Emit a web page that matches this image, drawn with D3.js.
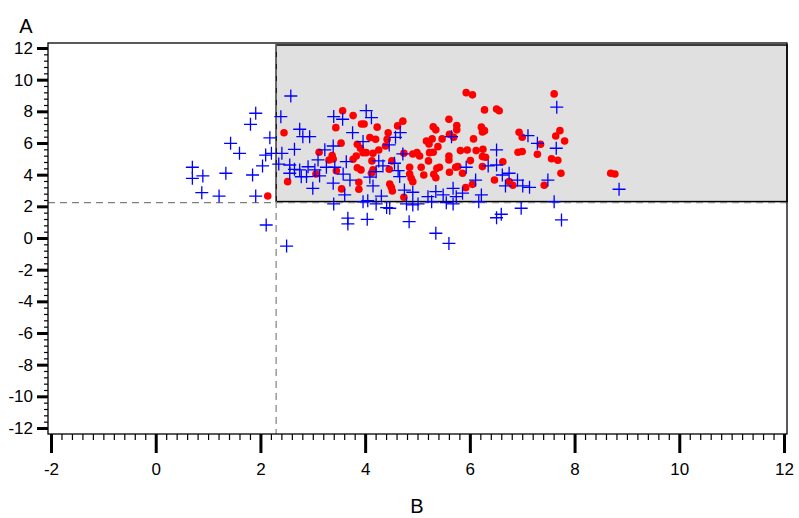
<!DOCTYPE html>
<html>
<head>
<meta charset="utf-8">
<script src="https://cdn.jsdelivr.net/npm/d3@7"></script>
<style>
  body { margin: 0; background: #fff; }
  text { font-family: "Liberation Sans", Arial, sans-serif; }
</style>
</head>
<body>
<div id="chart"></div>
<script>
// tick values
var xTicks = [-2, 0, 2, 4, 6, 8, 10, 12];
var yTicks = [-12, -10, -8, -6, -4, -2, 0, 2, 4, 6, 8, 10, 12];
var xTitle = "B", yTitle = "A";
// cut-off values for the shaded box and dashed guide lines
var cutX = 2.3, cutY = 2.3;

// blue crosses [B, A]
var crossPts = [
  [2.58,8.97],[1.91,7.88],[1.81,7.18],[2.39,7.66],[2.18,6.33],[2.75,6.87],[1.43,5.98],[1.60,5.35],
  [2.10,5.24],[2.21,5.35],[2.41,5.35],[2.04,4.55],[0.70,4.47],[0.70,3.77],[0.90,3.92],[1.34,4.09],
  [1.85,3.98],[0.88,2.86],[1.21,2.65],[1.91,2.65],[2.11,0.82],[2.50,-0.51],[2.65,5.60],[2.81,6.40],
  [2.94,6.40],[2.56,4.61],[2.65,4.34],[2.75,4.30],[2.78,3.87],[2.91,4.50],[2.56,4.09],[2.35,4.67],
  [3.23,5.57],[3.10,4.93],[3.26,4.47],[3.00,3.14],[2.88,3.88],[3.04,4.30],[3.13,3.92],
  [4.02,8.04],[4.12,7.60],[3.40,7.67],[3.57,7.50],[3.76,6.65],[3.39,5.81],[3.96,6.09],[4.67,6.65],
  [4.58,6.36],[4.46,5.88],[4.72,5.31],[4.26,4.87],[3.64,4.82],[3.42,4.47],[3.58,4.04],[3.71,3.66],
  [4.09,3.84],[4.21,4.19],[4.34,4.55],[4.56,4.72],[4.63,4.25],[4.66,3.88],[3.39,3.46],[3.61,2.72],
  [4.15,3.29],[4.31,2.65],[4.75,3.03],[4.91,2.89],[4.05,2.36],[3.96,2.29],[4.21,2.15],[4.41,1.92],
  [4.47,1.88],[4.79,2.15],[4.91,2.09],[5.01,2.15],[5.27,2.29],[5.55,2.23],[5.68,2.15],[3.40,2.15],
  [3.67,1.25],[3.67,0.89],[4.04,1.18],[4.84,1.03],[5.35,0.30],[5.60,-0.34],[5.20,2.61],[5.35,2.93],
  [5.49,2.72],[5.68,3.14],[5.74,2.61],[5.86,2.83],[6.11,3.66],[6.22,2.72],[6.17,2.29],[5.65,6.40],
  [5.93,4.47],[7.66,8.26],[7.11,6.46],[7.29,5.98],[7.65,5.67],[6.51,5.56],[6.51,4.61],[6.35,4.55],
  [6.62,3.98],[6.75,4.09],[6.91,3.66],[7.01,3.29],[7.14,3.20],[7.49,3.66],[6.68,3.29],[7.61,2.29],
  [6.98,1.88],[6.60,1.50],[6.51,1.28],[7.75,1.14],[8.85,3.08]
];

// red dots [B, A]
var dotPts = [
  [3.57,8.04],[3.77,7.73],[3.93,7.20],[3.98,7.20],[4.23,7.00],[3.44,6.97],[4.62,7.08],[4.72,7.38],
  [4.44,6.65],[4.42,6.24],[4.09,6.34],[4.20,6.24],[3.54,5.99],[3.85,5.92],[3.91,5.67],[3.96,5.39],
  [4.02,5.39],[4.15,5.35],[4.26,5.56],[4.39,5.81],[3.37,5.21],[3.39,4.99],[3.77,4.97],[3.83,5.18],
  [4.13,4.87],[4.51,4.87],[4.74,5.35],[4.91,5.31],[4.99,5.39],[5.04,5.18],[3.45,4.25],[3.85,4.44],
  [3.92,4.30],[4.15,4.30],[4.12,4.09],[4.46,4.34],[4.85,4.47],[4.85,4.04],[4.88,3.77],[4.91,3.56],
  [3.88,3.52],[3.88,3.08],[3.55,3.10],[4.47,3.41],[4.50,3.20],[4.52,2.97],[4.74,2.57],[5.12,3.98],
  [5.07,4.47],[5.21,4.87],[5.23,5.39],[5.30,5.42],[5.22,5.94],[5.17,6.13],[5.28,6.26],[5.30,7.03],
  [5.35,6.83],[5.60,7.50],[5.75,7.10],[5.75,6.83],[5.61,6.55],[5.69,6.36],[5.47,6.26],[5.39,5.77],
  [5.60,5.18],[5.60,4.93],[5.37,4.40],[5.42,4.47],[5.35,3.81],[5.31,4.03],[5.61,4.15],[5.73,4.47],
  [5.77,4.51],[5.86,4.09],[5.82,5.52],[5.95,5.56],[6.07,6.26],[6.01,4.89],[5.92,3.18],[6.05,3.39],
  [6.12,5.52],[6.25,5.61],[6.24,5.14],[6.30,5.10],[6.24,4.51],[6.22,7.00],[6.28,6.78],[6.28,8.09],
  [5.93,9.18],[6.05,9.04],[7.61,9.10],[6.51,8.15],[6.56,8.04],[6.24,6.70],[6.94,6.68],[7.00,6.36],
  [7.72,6.78],[7.64,6.44],[7.81,6.13],[7.35,5.92],[6.92,5.42],[7.00,5.46],[7.29,5.29],[6.63,4.82],
  [7.56,5.01],[7.68,4.91],[7.74,4.09],[6.47,3.66],[6.75,3.56],[6.82,3.33],[7.42,3.33],[8.69,4.09],
  [8.77,4.04],[2.45,6.65],[2.52,3.56],[2.14,2.65],[3.12,5.42],[3.31,4.93],[3.06,4.04]
];

var W = 799, H = 518;
// frame of the plot area
var frame = { left: 48, top: 43, right: 787, bottom: 434 };

var svg = d3.select("#chart")
  .append("svg")
  .attr("width", W)
  .attr("height", H);

var x = d3.scaleLinear().domain([-2, 12]).range([51, 784]);
var y = d3.scaleLinear().domain([-12, 12]).range([428, 48]);

// plain hyphen for negatives, like the original
var fmt = function(d) { return String(d); };

// shaded box (upper right region)
svg.append("rect")
  .attr("x", x(cutX))
  .attr("y", y(12) - 3)
  .attr("width", frame.right - x(cutX))
  .attr("height", y(cutY) - (y(12) - 3))
  .attr("fill", "#e0e0e0")
  .attr("stroke", "#000")
  .attr("stroke-width", 1.5);

// dashed guide lines
svg.append("line")
  .attr("x1", frame.left).attr("x2", frame.right)
  .attr("y1", y(cutY) + 1).attr("y2", y(cutY) + 1)
  .attr("stroke", "#808080").attr("stroke-width", 1.3)
  .attr("stroke-dasharray", "7,5");
svg.append("line")
  .attr("x1", x(cutX)).attr("x2", x(cutX))
  .attr("y1", y(12) - 3).attr("y2", frame.bottom)
  .attr("stroke", "#808080").attr("stroke-width", 1.2)
  .attr("stroke-dasharray", "7,5");

// red dots
svg.append("g").selectAll("circle")
  .data(dotPts)
  .enter()
  .append("circle")
  .attr("cx", function(d) { return x(d[0]); })
  .attr("cy", function(d) { return y(d[1]); })
  .attr("r", 3.8)
  .attr("fill", "#ff0000");

// blue crosses
var arm = 6.5;
svg.append("g").selectAll("path")
  .data(crossPts)
  .enter()
  .append("path")
  .attr("d", function(d) {
    var cx = x(d[0]), cy = y(d[1]);
    return "M" + (cx - arm) + "," + cy + "H" + (cx + arm) +
           "M" + cx + "," + (cy - arm) + "V" + (cy + arm);
  })
  .attr("stroke", "#0000ff")
  .attr("stroke-width", 1.3)
  .attr("fill", "none");

// plot frame
svg.append("rect")
  .attr("x", frame.left)
  .attr("y", frame.top)
  .attr("width", frame.right - frame.left)
  .attr("height", frame.bottom - frame.top)
  .attr("fill", "none")
  .attr("stroke", "#000")
  .attr("stroke-width", 1.3);

// x axis: minor then major
var xMinor = d3.range(-2, 12.001, 0.2).filter(function(v) {
  return Math.abs(v / 2 - Math.round(v / 2)) > 0.01;
});
svg.append("g")
  .attr("transform", "translate(0," + frame.bottom + ")")
  .call(d3.axisBottom(x).tickValues(xMinor).tickSize(6).tickFormat(""))
  .call(function(g) {
    g.select(".domain").remove();
    g.selectAll("line").attr("stroke-width", 1.2);
  });
svg.append("g")
  .attr("transform", "translate(0," + frame.bottom + ")")
  .call(d3.axisBottom(x).tickValues(xTicks).tickSize(19).tickPadding(10)
    .tickSizeOuter(0).tickFormat(fmt))
  .call(function(g) {
    g.select(".domain").remove();
    g.selectAll("line").attr("stroke-width", 3);
    g.selectAll("text").attr("font-size", 17).attr("fill", "#000")
      .attr("font-family", "Liberation Sans, Arial, sans-serif");
  });

// y axis: minor then major
var yMinor = d3.range(-12, 12.001, 0.4).filter(function(v) {
  return Math.abs(v / 2 - Math.round(v / 2)) > 0.01;
});
svg.append("g")
  .attr("transform", "translate(" + frame.left + ",0)")
  .call(d3.axisLeft(y).tickValues(yMinor).tickSize(4).tickFormat(""))
  .call(function(g) {
    g.select(".domain").remove();
    g.selectAll("line").attr("stroke-width", 1.2);
  });
svg.append("g")
  .attr("transform", "translate(" + frame.left + ",0)")
  .call(d3.axisLeft(y).tickValues(yTicks).tickSize(11).tickPadding(4)
    .tickSizeOuter(0).tickFormat(fmt))
  .call(function(g) {
    g.select(".domain").remove();
    g.selectAll("line").attr("stroke-width", 3);
    g.selectAll("text").attr("font-size", 17).attr("fill", "#000")
      .attr("font-family", "Liberation Sans, Arial, sans-serif");
  });

// axis titles
svg.append("text")
  .attr("x", 26).attr("y", 33)
  .attr("text-anchor", "middle")
  .attr("font-size", 20)
  .text(yTitle);
svg.append("text")
  .attr("x", 417).attr("y", 513)
  .attr("text-anchor", "middle")
  .attr("font-size", 20)
  .text(xTitle);
</script>
</body>
</html>
